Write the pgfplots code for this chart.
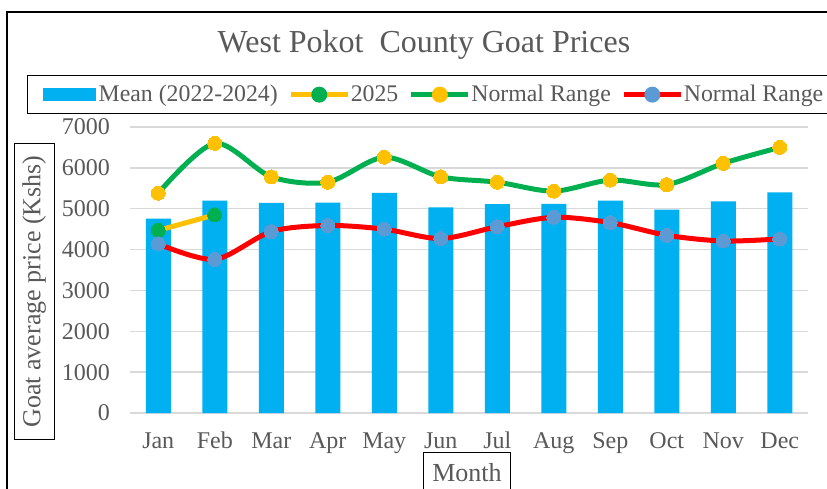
\documentclass[border=0pt]{standalone}
\usepackage{fontspec}
\setmainfont{Liberation Serif}
\usepackage{pgfplots}
\pgfplotsset{compat=1.18}
\definecolor{barblue}{HTML}{00B0F0}
\definecolor{txtgray}{HTML}{595959}
\definecolor{gridgray}{HTML}{D9D9D9}
\definecolor{xlgreen}{HTML}{00B050}
\definecolor{xlyellow}{HTML}{FFC000}
\definecolor{xlred}{HTML}{FF0000}
\definecolor{xlblue}{HTML}{5B9BD5}
\begin{document}
\begin{tikzpicture}[x=1pt,y=1pt]
\useasboundingbox (0,0) rectangle (827,488);
\draw[line width=1.3pt, black] (7,-20) -- (7,476) -- (860,476);
\begin{axis}[
  at={(130pt,75pt)}, anchor=south west,
  scale only axis, width=678pt, height=286pt,
  xmin=-0.5, xmax=11.5, ymin=0, ymax=7000,
  xtick={0,...,11},
  xticklabels={Jan,Feb,Mar,Apr,May,Jun,Jul,Aug,Sep,Oct,Nov,Dec},
  ytick={0,1000,...,7000},
  axis line style={draw=none},
  major tick style={draw=none},
  ymajorgrids, grid style={draw=gridgray, line width=1.5pt},
  tick label style={font=\fontsize{24}{24}\selectfont, text=txtgray, inner sep=0pt},
  /pgf/number format/assume math mode=true,
  /pgf/number format/1000 sep={},
  yticklabel shift=20pt,
  xticklabel style={text height=17pt, text depth=5pt},
  xticklabel shift=18pt,
  title={West Pokot\ \ County Goat Prices},
  title style={at={(axis description cs:0.4336,1.2378)}, anchor=base, font=\fontsize{32}{32}\selectfont, text=txtgray, inner sep=0pt},
  ylabel={Goat average price (Kshs)},
  ylabel style={at={(axis description cs:-0.1409,0.4248)}, anchor=center, draw=black, line width=1.3pt, font=\fontsize{26}{26}\selectfont, text=txtgray, inner xsep=12pt, inner ysep=8pt, text height=18pt, text depth=6pt},
  xlabel={Month},
  xlabel style={at={(axis description cs:0.497,-0.1364)}, anchor=north, draw=black, line width=1.3pt, font=\fontsize{26}{26}\selectfont, text=txtgray, inner xsep=9pt, inner ysep=11pt, text height=18pt, text depth=6pt},
  legend columns=4,
  legend style={at={(axis description cs:-0.1519,1.1818)}, anchor=north west, draw=black, line width=1.3pt, font=\fontsize{23.8}{24}\selectfont, text=txtgray, inner xsep=15pt, inner ysep=7pt,
    /tikz/every odd column/.append style={column sep=3pt},
    /tikz/every even column/.append style={column sep=13pt},
    nodes={inner sep=0pt, text height=19pt, text depth=5pt, font=\fontsize{23.8}{24}\selectfont}},
]
\addplot[ybar, bar width=25pt, fill=barblue, draw=none,
  legend image code/.code={\fill[barblue, draw=none] (0pt,-6.5pt) rectangle (53pt,6.5pt);}]
  coordinates {(0,4760) (1,5200) (2,5140) (3,5150) (4,5390) (5,5030) (6,5110) (7,5120) (8,5200) (9,4980) (10,5180) (11,5400)};
\addlegendentry{Mean (2022-2024)}
\addplot[smooth, color=xlyellow, line width=5pt, mark=*, mark size=7pt, mark options={fill=xlgreen, draw=xlgreen, line width=0pt},
  legend image code/.code={\fill[xlyellow, draw=none] (0pt,-2.5pt) rectangle (57pt,2.5pt); \fill[xlgreen, draw=none] (28.5pt,0pt) circle (8pt);}]
  coordinates {(0,4470) (1,4850)};
\addlegendentry{2025}
\addplot[smooth, color=xlgreen, line width=5pt, mark=*, mark size=7pt, mark options={fill=xlyellow, draw=xlyellow, line width=0pt},
  legend image code/.code={\fill[xlgreen, draw=none] (0pt,-2.5pt) rectangle (57pt,2.5pt); \fill[xlyellow, draw=none] (28.5pt,0pt) circle (8pt);}]
  coordinates {(0,5380) (1,6600) (2,5780) (3,5650) (4,6260) (5,5780) (6,5650) (7,5430) (8,5700) (9,5590) (10,6110) (11,6500)};
\addlegendentry{Normal Range}
\addplot[smooth, color=xlred, line width=5pt, mark=*, mark size=7pt, mark options={fill=xlblue, draw=xlblue, line width=0pt},
  legend image code/.code={\fill[xlred, draw=none] (0pt,-2.5pt) rectangle (57pt,2.5pt); \fill[xlblue, draw=none] (28.5pt,0pt) circle (8pt);}]
  coordinates {(0,4140) (1,3760) (2,4440) (3,4590) (4,4500) (5,4270) (6,4560) (7,4790) (8,4660) (9,4350) (10,4210) (11,4260)};
\addlegendentry{Normal Range}
\end{axis}
\end{tikzpicture}
\end{document}
